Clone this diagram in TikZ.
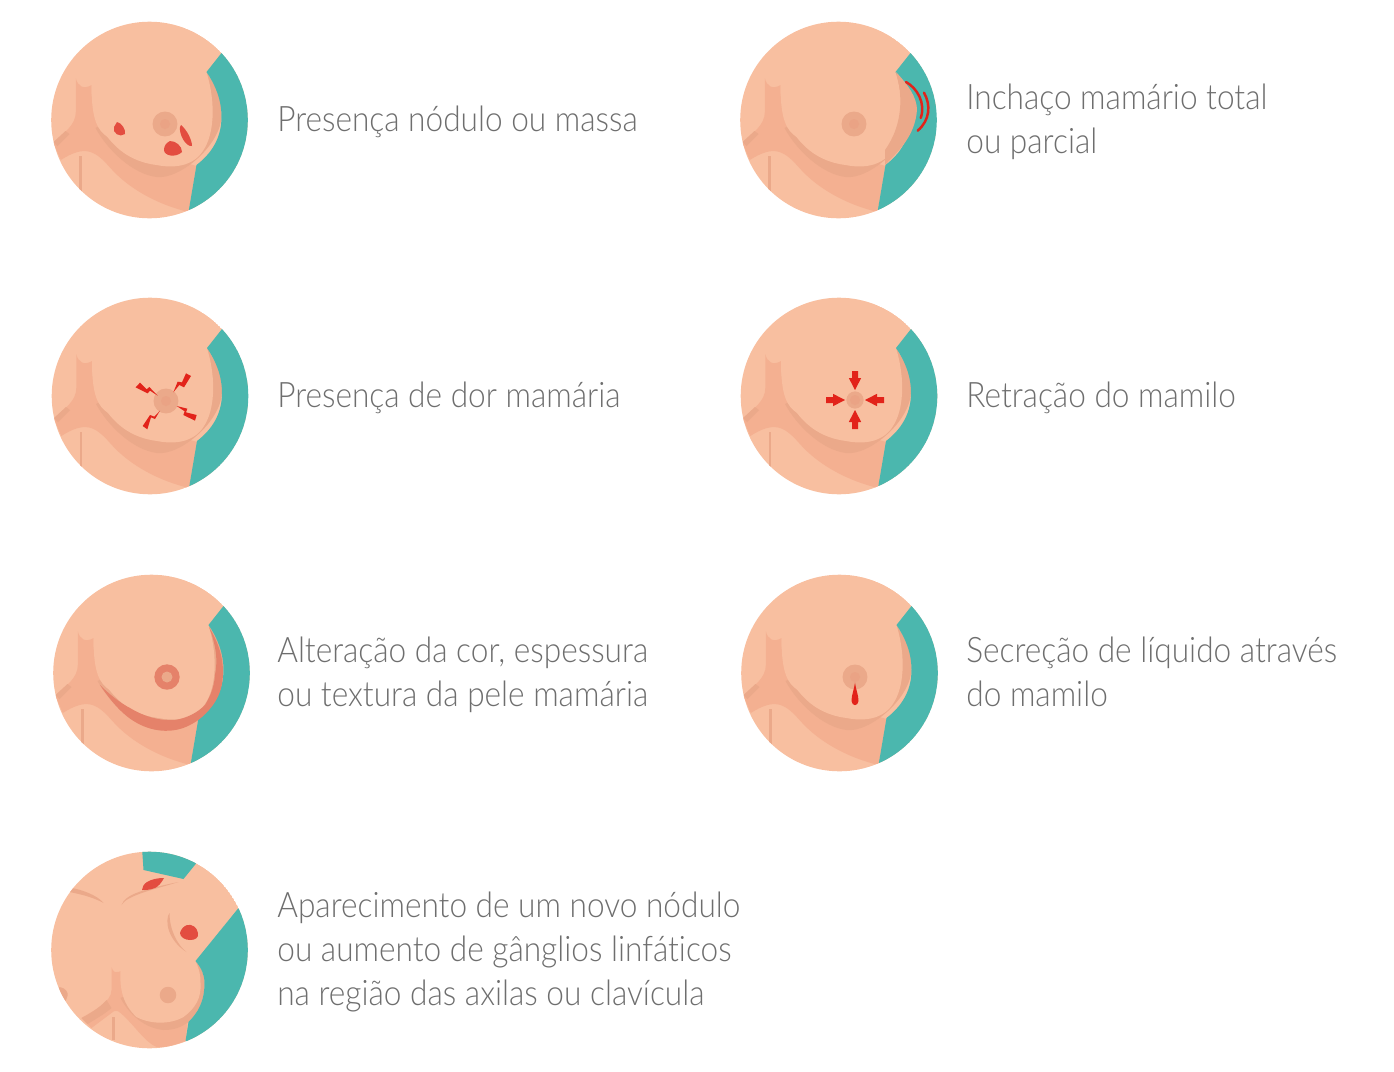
\documentclass[tikz,border=0pt]{standalone}
\usepackage{fontspec}
\setmainfont[FakeStretch=0.9,Ligatures=CommonOff]{Lato Light}
\definecolor{skin}{HTML}{F8BFA0}
\definecolor{skinmid}{HTML}{F4B091}
\definecolor{skindark}{HTML}{EBA98A}
\definecolor{teal}{HTML}{4BB7AE}
\definecolor{blob}{HTML}{E34D40}
\definecolor{alert}{HTML}{E2231A}
\definecolor{band}{HTML}{E5826A}
\definecolor{caption}{HTML}{6E6E6E}
\tikzset{
  caption/.style={anchor=west,align=left,text=caption,font=\fontsize{20}{25.2}\selectfont,inner sep=0pt},
  halo/.style={circle,fill=skindark,minimum size=14.2pt,inner sep=0pt},
}
% torso drawn about the circle centre, one unit is one pixel
\newcommand{\torso}[1]{%
  \begin{scope}[shift={#1}]
    \clip (0,0) circle (98.3);
    \fill[skin] (0,0) circle (98.3);
    \fill[skinmid] (-73.7,-42) .. controls (-72,-34) and (-66,-30) .. (-58,-35)
      .. controls (-58,-15) and (-55,5) .. (-40,20) -- (47,46) -- (39,92)
      .. controls (10,85) and (-20,70) .. (-40,47)
      .. controls (-55,30) and (-65,25) .. (-88.7,40) -- (-96,23)
      .. controls (-85,12) and (-73.7,5) .. (-73.7,-8) -- cycle;
    \fill[skindark] (-96,22) -- (-84,11) -- (-80,14) -- (-92,26) -- cycle;
    \fill[skindark] (-54,8) .. controls (-42,30) and (-17,54) .. (7,57)
      .. controls (30,60) and (72,25) .. (72,-5)
      .. controls (72,-25) and (65,-35) .. (57,-48) -- cycle;
    \fill[skin] (-58,-35) .. controls (-58,0) and (-52,10) .. (-42,17)
      .. controls (-32,30) and (-17,42) .. (7,45)
      .. controls (27,49) and (45,45) .. (54,30)
      .. controls (64,15) and (67,-15) .. (57,-48) -- (0,-90) -- cycle;
    \fill[teal] (72,-67) -- (57,-48) .. controls (66,-35) and (72,-20) .. (72,-3)
      .. controls (72,20) and (60,35) .. (47,45) -- (39,92) -- (110,92) -- (110,-67) -- cycle;
    \draw[skindark,line width=1.2pt] (-69,36) -- (-69,72);
  \end{scope}}
\newcommand{\halo}[2][14.2pt]{%
  \node[halo,minimum size=#1] at #2 {};
  \fill[skindark!85!band] #2 circle (5);}
\begin{document}
\begin{tikzpicture}[x=0.02cm,y=-0.02cm]
  \useasboundingbox (0,0) rectangle (1394,1072);
  % nodule
  \torso{(149.5,120)}
  \halo{(165,124)}
  \fill[blob] (117,122) .. controls (122,123) and (126,130) .. (125,134) .. controls (120,138) and (112,133) .. (114,127) -- cycle;
  \fill[blob] (181,125) .. controls (187,130) and (192,140) .. (192,146) .. controls (186,147) and (179,135) .. (180,127) -- cycle;
  \fill[blob] (170,141) .. controls (176,141) and (182,146) .. (182,152) .. controls (176,158) and (164,156) .. (164,150) .. controls (164,146) and (166,143) .. (170,141) -- cycle;
  \node[caption] (t1) at (277,122) {Presença nódulo ou massa};
  % swelling
  \torso{(838.5,120)}
  \fill[skindark] (896,72) .. controls (908,85) and (917,97) .. (917,110)
    .. controls (915,135) and (900,150) .. (885,165) -- (885,150)
    .. controls (903,125) and (903,95) .. (896,72) -- cycle;
  \halo{(854,124)}
  \draw[alert,line width=1.4pt,line cap=round] (906,82) .. controls (917,88) and (926,103) .. (920.7,118);
  \draw[alert,line width=1.4pt,line cap=round] (924,92.7) .. controls (931,105) and (930,120) .. (917.7,130.7);
  \node[caption,align=left] (t2) at (966,122) {Inchaço mamário total\\ou parcial};
  % pain
  \torso{(150,396)}
  \halo{(166,401)}
  \begin{scope}[shift={(110,350)},scale=1/3]
    \fill[alert] (90,98) -- (110,118) -- (118,111) -- (143,137) -- (120,122) -- (113,130) -- (77,112) -- cycle;
    \fill[alert] (228,70) -- (243,78) -- (222,112) -- (208,105) -- (190,127) -- (203,95) -- (216,97) -- cycle;
    \fill[alert] (200,168) -- (232,176) -- (228,187) -- (260,195) -- (255,212) -- (220,195) -- (224,184) -- cycle;
    \fill[alert] (150,182) -- (135,207) -- (123,202) -- (112,238) -- (98,228) -- (120,195) -- (133,200) -- cycle;
  \end{scope}
  \node[caption] (t3) at (277,398) {Presença de dor mamária};
  % retraction
  \torso{(839,396)}
  \halo[9.8pt]{(855,400)}
  \foreach \a in {0,90,180,270}{
    \fill[alert,shift={(855,400)},rotate=\a] (10,0) -- (22,-6.2) -- (22,-3) -- (29,-3) -- (29,3) -- (22,3) -- (22,6.2) -- cycle;
  }
  \node[caption] (t4) at (966,398) {Retração do mamilo};
  % colour change
  \torso{(151.5,673)}
  \fill[band] (100,685) .. controls (112,703) and (124,716) .. (137,723)
    .. controls (155,733) and (175,733) .. (190,725)
    .. controls (200,720) and (207,713) .. (213,705)
    .. controls (220,695) and (223,685) .. (223,672)
    .. controls (223,655) and (217,640) .. (209,627)
    .. controls (216,645) and (218,660) .. (215,675)
    .. controls (214,690) and (208,700) .. (205,705)
    .. controls (197,713) and (187,718) .. (175,720)
    .. controls (160,721) and (145,717) .. (130,708)
    .. controls (120,703) and (108,693) .. (100,685) -- cycle;
  \fill[band] (167,677) circle (12.7);
  \fill[skindark] (167,677) circle (5.5);
  \node[caption,align=left] (t5) at (277,675) {Alteração da cor, espessura\\ou textura da pele mamária};
  % discharge
  \torso{(839.5,673)}
  \halo{(855,677)}
  \fill[alert] (855,682.7) .. controls (856,690) and (858.5,695) .. (858.5,701) .. controls (858,706.5) and (852,706.5) .. (851.5,701) .. controls (851.5,695) and (854,690) .. (855,682.7) -- cycle;
  \node[caption,align=left] (t6) at (966,672) {Secreção de líquido através\\do mamilo};
  % armpit and collarbone
  \begin{scope}[shift={(149.5,950)}]
    \clip (0,0) circle (98.3);
    \fill[skin] (0,0) circle (98.3);
    \fill[skinmid] (-38,17) .. controls (-37,21) and (-34,23) .. (-33,22)
      .. controls (-31,22) and (-30,22) .. (-29,21) -- (38,72) -- (36,91)
      .. controls (25,95) and (15,98) .. (7,97)
      .. controls (-5,92) and (-15,75) .. (-29,63)
      .. controls (-32,60) and (-35,60) .. (-38,63) -- (-58,78) -- (-68,68)
      .. controls (-55,60) and (-38,52) .. (-38,40) -- cycle;
    \fill[skindark] (-68,68) .. controls (-60,64) and (-50,58) .. (-43,50) -- (-38,58)
      .. controls (-45,64) and (-52,68) .. (-62,74) -- cycle;
    \fill[skindark] (-29,48) .. controls (-20,65) and (-5,78) .. (14,80)
      .. controls (25,80) and (32,77) .. (39,72)
      .. controls (48,63) and (55,52) .. (55,33)
      .. controls (55,25) and (52,18) .. (46,11) -- cycle;
    \fill[skin] (-29,21) .. controls (-30,40) and (-26,55) .. (-13,67)
      .. controls (0,74) and (20,75) .. (34,67)
      .. controls (46,58) and (52,48) .. (51,33)
      .. controls (51,25) and (50,20) .. (46,11) -- (0,0) -- cycle;
    \fill[teal] (89,-42) -- (46,11) .. controls (52,18) and (55,25) .. (55,33)
      .. controls (55,52) and (48,63) .. (39,72) -- (36,91) -- (110,91) -- (110,-42) -- cycle;
    \fill[teal] (-8,-110) -- (-6,-80) -- (34,-71) -- (47,-87) -- (47,-110) -- cycle;
    \draw[skindark,line width=1.2pt] (-36,67) -- (-36,90);
    \fill[skindark] (-78,-62) .. controls (-70,-61) and (-52,-55) .. (-46,-47)
      .. controls (-55,-52) and (-65,-55) .. (-80,-58) -- cycle;
    \fill[skindark] (-28,-45) .. controls (-24,-55) and (-10,-60) .. (29,-68)
      .. controls (10,-62) and (-10,-58) .. (-23,-50) .. controls (-26,-48) and (-27,-46) .. (-28,-45) -- cycle;
    \fill[skindark] (20,-37) .. controls (15,-30) and (18,-10) .. (37,2)
      .. controls (28,-5) and (20,-20) .. (20,-37) -- cycle;
    \fill[skindark] (-90,37) .. controls (-84,38) and (-81,42) .. (-82,46)
      .. controls (-83,50) and (-85,52) .. (-86,54) -- (-100,50) -- cycle;
    \node[halo,minimum size=9.4pt] (h7) at (18.5,45) {};
  \end{scope}
  \fill[blob] (147,882) .. controls (152,879) and (158,878) .. (164,878)
    .. controls (162,882) and (158,887) .. (155,888) .. controls (150,890) and (145,890) .. (142,890) .. controls (142,887) and (144,884) .. (147,882) -- cycle;
  \fill[blob] (187,925) .. controls (192,924) and (197,927) .. (198,933)
    .. controls (199,938) and (195,940) .. (190,940) .. controls (185,940) and (180,937) .. (180,933) .. controls (181,929) and (184,926) .. (187,925) -- cycle;
  \node[caption,align=left] (t7) at (277,952) {Aparecimento de um novo nódulo\\ou aumento de gânglios linfáticos\\na região das axilas ou clavícula};
\end{tikzpicture}
\end{document}
